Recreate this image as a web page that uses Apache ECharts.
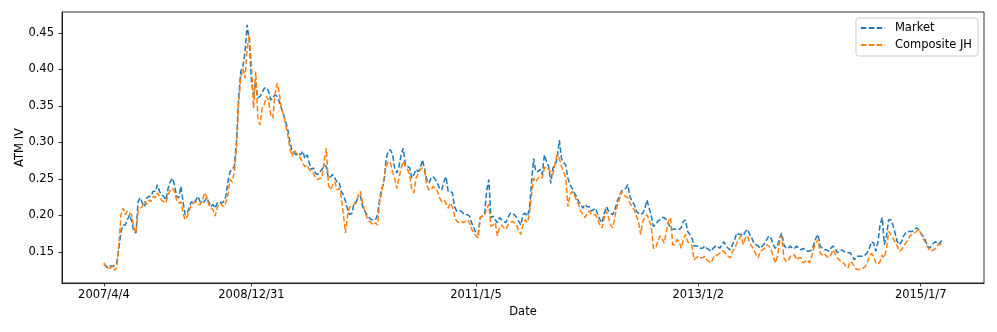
<!DOCTYPE html>
<html><head><meta charset="utf-8">
<script src="https://cdn.jsdelivr.net/npm/echarts@6/dist/echarts.min.js"></script>
<style>html,body{margin:0;padding:0;background:#fff}#c{width:997px;height:332px}</style>
</head><body><div id="c"></div>
<script>
const tickIndex = [0, 69, 174, 278, 382];
const tickLabels = ['2007/4/4', '2008/12/31', '2011/1/5', '2013/1/2', '2015/1/7'];
const yTicks = [0.15, 0.20, 0.25, 0.30, 0.35, 0.40, 0.45];
const seriesNames = ['Market', 'Composite JH'];
const market = [
0.133,0.131,0.128,0.131,0.130,0.131,0.135,0.155,0.178,0.187,
0.187,0.194,0.201,0.192,0.178,0.176,0.219,0.224,0.217,0.212,
0.224,0.226,0.226,0.233,0.233,0.242,0.233,0.228,0.226,0.221,
0.237,0.246,0.251,0.242,0.226,0.224,0.240,0.219,0.201,0.203,
0.212,0.219,0.217,0.221,0.226,0.219,0.217,0.219,0.224,0.219,
0.212,0.215,0.210,0.217,0.219,0.217,0.219,0.226,0.246,0.260,
0.263,0.267,0.301,0.361,0.397,0.404,0.424,0.461,0.438,0.383,
0.365,0.383,0.361,0.363,0.368,0.374,0.375,0.370,0.358,0.361,
0.365,0.363,0.356,0.347,0.338,0.329,0.317,0.301,0.288,0.285,
0.283,0.285,0.283,0.288,0.278,0.283,0.272,0.263,0.265,0.258,
0.256,0.260,0.263,0.269,0.267,0.251,0.253,0.256,0.251,0.246,
0.246,0.233,0.228,0.219,0.208,0.201,0.203,0.217,0.219,0.224,
0.226,0.212,0.206,0.201,0.197,0.194,0.194,0.194,0.201,0.224,
0.237,0.246,0.278,0.288,0.290,0.283,0.265,0.258,0.267,0.283,
0.292,0.269,0.267,0.265,0.251,0.256,0.263,0.260,0.265,0.276,
0.263,0.249,0.244,0.251,0.253,0.249,0.244,0.237,0.235,0.246,
0.253,0.233,0.233,0.231,0.212,0.206,0.206,0.206,0.203,0.201,
0.201,0.199,0.190,0.183,0.176,0.174,0.197,0.199,0.201,0.233,
0.249,0.197,0.199,0.194,0.190,0.197,0.194,0.192,0.190,0.197,
0.203,0.203,0.201,0.197,0.192,0.187,0.201,0.203,0.199,0.208,
0.246,0.278,0.260,0.260,0.263,0.256,0.283,0.274,0.267,0.244,
0.265,0.269,0.278,0.303,0.278,0.272,0.269,0.251,0.242,0.237,
0.231,0.226,0.219,0.215,0.210,0.215,0.212,0.212,0.206,0.208,
0.210,0.201,0.194,0.190,0.203,0.212,0.206,0.203,0.201,0.208,
0.219,0.226,0.233,0.235,0.237,0.242,0.226,0.219,0.215,0.206,
0.203,0.201,0.203,0.210,0.221,0.210,0.199,0.185,0.187,0.192,
0.194,0.197,0.197,0.194,0.190,0.181,0.181,0.181,0.181,0.181,
0.183,0.192,0.194,0.178,0.174,0.169,0.158,0.158,0.158,0.155,
0.155,0.158,0.155,0.153,0.151,0.155,0.158,0.158,0.155,0.160,
0.164,0.158,0.155,0.153,0.160,0.167,0.176,0.174,0.174,0.172,
0.178,0.181,0.174,0.169,0.162,0.160,0.158,0.155,0.158,0.162,
0.167,0.172,0.169,0.160,0.155,0.158,0.169,0.176,0.160,0.155,
0.155,0.158,0.155,0.155,0.158,0.155,0.153,0.155,0.153,0.151,
0.151,0.153,0.160,0.169,0.174,0.158,0.155,0.153,0.153,0.151,
0.155,0.158,0.155,0.149,0.151,0.153,0.151,0.149,0.149,0.149,
0.144,0.139,0.144,0.144,0.144,0.144,0.146,0.149,0.155,0.164,
0.162,0.151,0.164,0.187,0.197,0.160,0.172,0.194,0.194,0.187,
0.176,0.164,0.160,0.164,0.172,0.176,0.178,0.178,0.178,0.181,
0.183,0.181,0.176,0.172,0.167,0.160,0.155,0.158,0.162,0.164,
0.160,0.162,0.167
];
const composite = [
0.135,0.129,0.127,0.128,0.131,0.125,0.128,0.160,0.201,0.210,
0.201,0.206,0.203,0.201,0.183,0.176,0.206,0.210,0.212,0.219,
0.215,0.221,0.219,0.226,0.224,0.231,0.226,0.221,0.219,0.217,
0.228,0.235,0.237,0.233,0.221,0.217,0.219,0.203,0.194,0.199,
0.208,0.215,0.217,0.219,0.215,0.215,0.219,0.231,0.226,0.215,
0.210,0.208,0.199,0.210,0.217,0.215,0.212,0.217,0.228,0.249,
0.246,0.260,0.292,0.352,0.388,0.401,0.388,0.429,0.447,0.406,
0.347,0.397,0.333,0.324,0.347,0.352,0.363,0.358,0.338,0.333,
0.365,0.381,0.368,0.347,0.338,0.324,0.310,0.292,0.281,0.290,
0.285,0.283,0.278,0.271,0.267,0.269,0.263,0.260,0.258,0.251,
0.249,0.251,0.251,0.274,0.292,0.242,0.235,0.242,0.246,0.235,
0.237,0.226,0.201,0.176,0.201,0.212,0.212,0.215,0.217,0.228,
0.233,0.217,0.206,0.197,0.192,0.190,0.187,0.190,0.187,0.219,
0.233,0.251,0.267,0.274,0.272,0.260,0.251,0.237,0.251,0.265,
0.274,0.267,0.263,0.256,0.235,0.231,0.251,0.258,0.263,0.265,
0.260,0.242,0.235,0.235,0.240,0.237,0.233,0.224,0.219,0.221,
0.217,0.210,0.217,0.212,0.199,0.192,0.190,0.192,0.190,0.192,
0.194,0.190,0.181,0.176,0.172,0.169,0.197,0.199,0.199,0.210,
0.215,0.185,0.187,0.190,0.172,0.183,0.187,0.183,0.181,0.187,
0.190,0.192,0.190,0.187,0.178,0.174,0.187,0.194,0.190,0.201,
0.228,0.251,0.246,0.251,0.253,0.251,0.265,0.267,0.263,0.260,
0.256,0.272,0.283,0.278,0.267,0.260,0.251,0.212,0.228,0.233,
0.228,0.221,0.215,0.206,0.201,0.197,0.203,0.206,0.201,0.201,
0.201,0.194,0.187,0.183,0.197,0.206,0.197,0.187,0.183,0.199,
0.212,0.221,0.233,0.228,0.226,0.224,0.217,0.212,0.208,0.199,
0.192,0.174,0.192,0.197,0.201,0.194,0.185,0.155,0.155,0.164,
0.172,0.169,0.162,0.176,0.192,0.197,0.160,0.160,0.167,0.164,
0.155,0.167,0.174,0.164,0.162,0.158,0.139,0.142,0.144,0.142,
0.142,0.144,0.139,0.137,0.135,0.142,0.146,0.146,0.148,0.151,
0.151,0.146,0.144,0.142,0.151,0.155,0.162,0.167,0.172,0.160,
0.169,0.172,0.162,0.158,0.153,0.146,0.142,0.151,0.153,0.155,
0.160,0.158,0.153,0.144,0.135,0.144,0.164,0.172,0.142,0.137,
0.137,0.144,0.146,0.146,0.139,0.142,0.142,0.135,0.137,0.139,
0.135,0.144,0.155,0.162,0.167,0.148,0.146,0.148,0.144,0.142,
0.146,0.153,0.148,0.142,0.139,0.135,0.135,0.130,0.128,0.137,
0.135,0.130,0.126,0.126,0.126,0.128,0.130,0.135,0.144,0.148,
0.144,0.135,0.133,0.137,0.146,0.142,0.155,0.178,0.174,0.169,
0.164,0.158,0.151,0.153,0.158,0.162,0.167,0.172,0.174,0.176,
0.178,0.181,0.176,0.169,0.164,0.158,0.153,0.151,0.153,0.155,
0.160,0.160,0.162
];

const FONT = 'DejaVu Sans';
const toXY = arr => arr.map((v, i) => [i, v]);
const n = market.length;
const pad = (n - 1) * 0.05;

const chart = echarts.init(document.getElementById('c'), null, {renderer: 'canvas'});
chart.setOption({
  animation: false,
  backgroundColor: '#fff',
  textStyle: {fontFamily: FONT},
  grid: {left: 62, right: 13, top: 12, bottom: 49, show: true, borderColor: '#000', borderWidth: 0.8, backgroundColor: 'transparent'},
  legend: {
    orient: 'vertical', right: 19, top: 18,
    data: seriesNames,
    itemWidth: 24, itemHeight: 10, itemGap: 3,
    padding: [3, 6, 4, 4],
    backgroundColor: '#fff', borderColor: '#cccccc', borderWidth: 1, borderRadius: 3,
    itemStyle: {opacity: 0},
    textStyle: {fontFamily: FONT, fontSize: 11.5, color: '#000', padding: [0, 0, 0, 5], lineHeight: 14}
  },
  xAxis: {
    type: 'value', min: -pad, max: (n - 1) + pad,
    name: 'Date', nameLocation: 'middle', nameGap: 23,
    nameTextStyle: {fontFamily: FONT, fontSize: 11.5, color: '#000'},
    splitLine: {show: false},
    axisLine: {show: true, onZero: false, lineStyle: {color: '#000', width: 0.8}},
    axisTick: {show: true, customValues: tickIndex, length: 3.5, lineStyle: {color: '#000', width: 0.8}},
    axisLabel: {customValues: tickIndex, margin: 6, fontFamily: FONT, fontSize: 11.5, color: '#000',
      formatter: v => { const k = tickIndex.indexOf(Math.round(v)); return k >= 0 ? tickLabels[k] : ''; }}
  },
  yAxis: {
    type: 'value', min: 0.1075, max: 0.4785,
    name: 'ATM IV', nameLocation: 'middle', nameGap: 36, nameMoveOverlap: false,
    nameTextStyle: {fontFamily: FONT, fontSize: 11.5, color: '#000'},
    splitLine: {show: false},
    axisLine: {show: true, onZero: false, lineStyle: {color: '#000', width: 0.8}},
    axisTick: {show: true, customValues: yTicks, length: 3.5, lineStyle: {color: '#000', width: 0.8}},
    axisLabel: {customValues: yTicks, margin: 8, fontFamily: FONT, fontSize: 11.5, color: '#000',
      formatter: v => v.toFixed(2)}
  },
  series: [
    {name: seriesNames[0], type: 'line', data: toXY(market), symbol: 'none', showSymbol: false,
     lineStyle: {color: '#1f77b4', width: 1.5, type: [5.5, 2.4]}, itemStyle: {color: '#1f77b4'}},
    {name: seriesNames[1], type: 'line', data: toXY(composite), symbol: 'none', showSymbol: false,
     lineStyle: {color: '#ff7f0e', width: 1.5, type: [5.5, 2.4]}, itemStyle: {color: '#ff7f0e'}}
  ]
});
</script></body></html>
